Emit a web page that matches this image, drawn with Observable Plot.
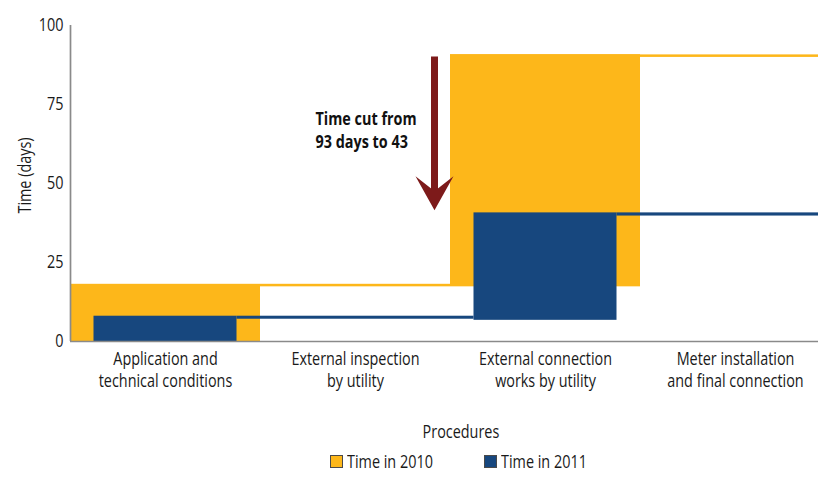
<!DOCTYPE html>
<html>
<head>
<meta charset="utf-8">
<script src="https://cdn.jsdelivr.net/npm/d3@7"></script>
<script src="https://cdn.jsdelivr.net/npm/@observablehq/plot@0.6"></script>
<style>
  html, body { margin: 0; padding: 0; background: #fff; overflow: hidden; }
  body { width: 818px; height: 479px; font-family: "Open Sans", "Noto Sans", sans-serif; color: #1a1a1a; position: relative; }
  .cond { position: absolute; white-space: nowrap; font-size: 18px; line-height: 22px; transform: scaleX(0.8); transform-origin: 0 50%; }
  .sw { position: absolute; width: 11px; height: 11px; border: 1px solid #4a4a4a; }
</style>
</head>
<body>
<div id="chart"></div>
<div id="below"></div>
<script>
// ---- data ----
const procedures = [
  "Application and\ntechnical conditions",
  "External inspection\nby utility",
  "External connection\nworks by utility",
  "Meter installation\nand final connection"
];
const kinds = ["bar", "step", "bar", "step"];
const start2010 = [0, 17.3, 17.3, 89.9];
const end2010   = [18.1, 18.1, 90.8, 90.7];
const start2011 = [0, 7.05, 6.7, 39.7];
const end2011   = [8.0, 8.0, 40.7, 40.7];
const seriesNames = ["Time in 2010", "Time in 2011"];
const seriesColors = ["#fdb71a", "#17477e"];
const yTicks = [0, 25, 50, 75, 100];
const xTitle = "Procedures";
const yTitle = "Time (days)";
const annotationText = "Time cut from\n93 days to 43";
const arrowFrom = 90;   // days (top of arrow)
const arrowTo = 41.5;   // days (arrow tip)
const arrowAt = 2;      // boundary between procedures 2 and 3
const annotationY = 67.3;

// ---- build table ----
const rows = [];
procedures.forEach((p, i) => {
  rows.push({i, proc: p, kind: kinds[i], year: seriesNames[0], y1: start2010[i], y2: end2010[i]});
  rows.push({i, proc: p, kind: kinds[i], year: seriesNames[1], y1: start2011[i], y2: end2011[i]});
});
const r2010 = rows.filter(d => d.year === seriesNames[0]);
const bars2011 = rows.filter(d => d.year === seriesNames[1] && d.kind === "bar");
const steps2011 = rows.filter(d => d.year === seriesNames[1] && d.kind === "step");

const arrowRed = "#7d1a1a";
const arrowHead = {
  draw(ctx) {
    ctx.moveTo(0, 0);
    ctx.lineTo(-19, -34);
    ctx.lineTo(-3.7, -22);
    ctx.lineTo(3.7, -22);
    ctx.lineTo(19, -34);
    ctx.closePath();
  }
};
const fontFam = '"Open Sans", "Noto Sans", sans-serif';
const SX = 0.8; // horizontal condensing of the text (reference uses a condensed face)

const chart = Plot.plot({
  width: 818,
  height: 400,
  marginTop: 25,
  marginBottom: 59,
  marginLeft: 70,
  marginRight: 0,
  style: {fontFamily: fontFam, fontSize: "18px", color: "#1a1a1a", background: "#fff"},
  x: {domain: [0, 4], range: [70, 830]},
  y: {domain: [0, 100]},
  marks: [
    Plot.rectY(r2010, {x1: d => d.i, x2: d => d.i + 1, y1: "y1", y2: "y2", fill: seriesColors[0], clip: true}),
    Plot.rectY(bars2011, {x1: d => d.i, x2: d => d.i + 1, y1: "y1", y2: "y2", fill: seriesColors[1], insetLeft: 23.5, insetRight: 23.5, clip: true}),
    Plot.rectY(steps2011, {x1: d => d.i, x2: d => d.i + 1, y1: "y1", y2: "y2", fill: seriesColors[1], insetLeft: -23.5, insetRight: -23.5, clip: true}),
    Plot.ruleX([0], {stroke: "#8a8a8a", strokeWidth: 1.7}),
    Plot.ruleY([0], {stroke: "#8a8a8a", strokeWidth: 1.7}),
    Plot.axisY({ticks: yTicks, tickSize: 0, tickPadding: 7, fontSize: 18, label: yTitle, labelArrow: "none", labelAnchor: "center", labelOffset: 52}),
    Plot.axisX({ticks: procedures.map((p, i) => i + 0.5), tickFormat: d => procedures[Math.floor(d)], tickSize: 0, tickPadding: 8, fontSize: 18, lineHeight: 1.22, label: null}),
    Plot.ruleX([{x: arrowAt, y1: arrowFrom, y2: arrowTo + 6}], {x: "x", y1: "y1", y2: "y2", dx: -16, stroke: arrowRed, strokeWidth: 7}),
    Plot.dot([{x: arrowAt, y: arrowTo}], {x: "x", y: "y", dx: -16, symbol: arrowHead, fill: arrowRed, stroke: "none", r: 10}),
    Plot.text([annotationText], {x: arrowAt, y: annotationY, dx: -135, text: d => d, textAnchor: "start", lineAnchor: "middle", fontWeight: "bold", fontSize: 18, lineHeight: 1.27, fill: "#111"})
  ]
});
// condense text horizontally about each text's own anchor point;
// nudge the rotated y-axis title up to where the reference has it
d3.select(chart).selectAll("text").each(function() {
  const t = this.getAttribute("transform") || "";
  const shift = /rotate/.test(t) ? "translate(0,-8) " : "";
  this.setAttribute("transform", `${shift}${t} scale(${SX},1)`);
});
document.getElementById("chart").appendChild(chart);

// ---- axis title + legend below the svg ----
const below = document.getElementById("below");
function addText(str, left, top) {
  const el = document.createElement("div");
  el.className = "cond";
  el.textContent = str;
  el.style.left = left + "px";
  el.style.top = top + "px";
  below.appendChild(el);
  return el;
}
// centered title
const tt = addText(xTitle, 0, 420);
const w = tt.getBoundingClientRect().width / SX;
tt.style.left = (461 - w / 2) + "px";
tt.style.transformOrigin = "50% 50%";

const legendX = [330, 484];
seriesNames.forEach((name, k) => {
  const sw = document.createElement("div");
  sw.className = "sw";
  sw.style.background = seriesColors[k];
  sw.style.left = legendX[k] + "px";
  sw.style.top = "455px";
  below.appendChild(sw);
  addText(name, legendX[k] + 16.5, 450);
});
</script>
</body>
</html>
